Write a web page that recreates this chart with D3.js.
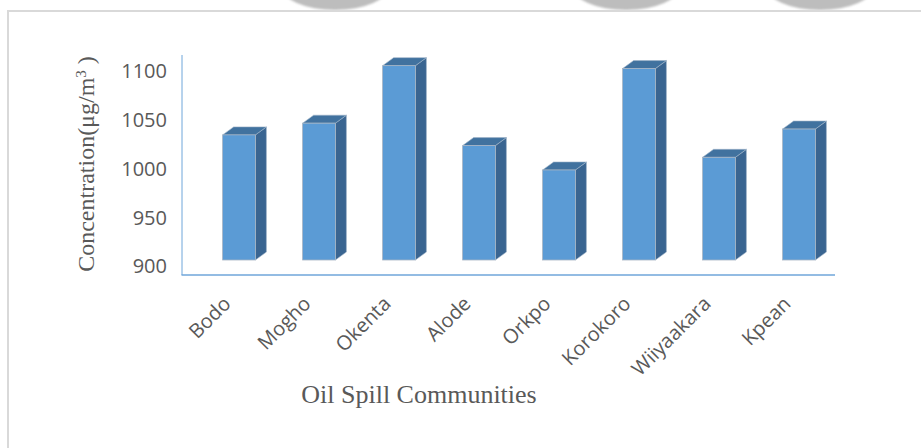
<!DOCTYPE html>
<html>
<head>
<meta charset="utf-8">
<script src="https://cdn.jsdelivr.net/npm/d3@7"></script>
<style>
  html, body { margin: 0; padding: 0; background: #fff; }
  svg { display: block; }
</style>
</head>
<body>
<svg id="chart" width="921" height="448"></svg>
<script>
// Concentration per oil spill community
const communities = ["Bodo", "Mogho", "Okenta", "Alode", "Orkpo", "Korokoro", "Wiiyaakara", "Kpean"];
const concentration = [1035, 1047, 1106, 1024, 999, 1103, 1012, 1041];
const yTicks = [900, 950, 1000, 1050, 1100];

const svg = d3.select("#chart");
const W = 921, H = 448;

// soft grey discs peeking in along the top edge
const discs = [335, 626, 820];
const defs = svg.append("defs");
defs.append("filter").attr("id", "soft")
  .append("feGaussianBlur").attr("stdDeviation", 1.2);
svg.append("g").attr("filter", "url(#soft)")
  .selectAll("ellipse").data(discs).join("ellipse")
  .attr("cx", d => d).attr("cy", -14).attr("rx", 54).attr("ry", 24)
  .attr("fill", "#bdbdbd");

// chart frame
svg.append("path")
  .attr("d", `M8,${H} L8,11 L${W},11`)
  .attr("fill", "none").attr("stroke", "#d9d9d9").attr("stroke-width", 2);

// scales
const y = d3.scaleLinear().domain([900, 1100]).range([266.5, 71.5]);
const x = d3.scaleBand().domain(communities).range([199, 839])
  .paddingInner(0.59).paddingOuter(0.295);

const depthX = 11, depthY = -8;          // oblique depth of each column
const floorShift = 6.5;                  // front face sits slightly above the tick baseline
const base = y(900) - floorShift;

// axis lines
const axisColor = "#6fa6da";
svg.append("line").attr("x1", 182).attr("x2", 182).attr("y1", 55).attr("y2", 275)
  .attr("stroke", axisColor).attr("stroke-width", 1);
svg.append("line").attr("x1", 181.5).attr("x2", 835).attr("y1", 275).attr("y2", 275)
  .attr("stroke", axisColor).attr("stroke-width", 1.6);

// y tick labels
const yAxis = svg.append("g").attr("transform", "translate(182,0)")
  .call(d3.axisLeft(y).tickValues(yTicks).tickSize(0).tickPadding(15).tickFormat(d3.format("d")));
yAxis.select(".domain").remove();
yAxis.selectAll("text")
  .attr("font-family", "'Open Sans', sans-serif").attr("font-size", 20)
  .attr("fill", "#595959");

// 3D columns
const bars = svg.append("g").selectAll("g").data(communities.map((c, i) => ({ c, v: concentration[i] })))
  .join("g");
const bw = x.bandwidth();
bars.append("path") // side
  .attr("d", d => {
    const x1 = x(d.c) + bw, t = y(d.v);
    return `M${x1},${t} L${x1 + depthX},${t + depthY} L${x1 + depthX},${base + depthY} L${x1},${base} Z`;
  })
  .attr("fill", "#3a6591").attr("stroke", "#9fb3c8").attr("stroke-width", 0.6);
bars.append("path") // top
  .attr("d", d => {
    const x0 = x(d.c), t = y(d.v);
    return `M${x0},${t} L${x0 + depthX},${t + depthY} L${x0 + bw + depthX},${t + depthY} L${x0 + bw},${t} Z`;
  })
  .attr("fill", "#41729f").attr("stroke", "#9fb3c8").attr("stroke-width", 0.6);
bars.append("rect") // front
  .attr("x", d => x(d.c)).attr("y", d => y(d.v))
  .attr("width", bw).attr("height", d => base - y(d.v))
  .attr("fill", "#5b9bd5").attr("stroke", "#a7b4c2").attr("stroke-width", 0.8);

// category labels
svg.append("g").selectAll("text").data(communities).join("text")
  .attr("transform", d => `translate(${x(d) + bw / 2 - 7},305) rotate(-45)`)
  .attr("text-anchor", "end")
  .attr("font-family", "'Open Sans', sans-serif").attr("font-size", 20)
  .attr("fill", "#595959")
  .text(d => d);

// axis titles
const yTitle = svg.append("text")
  .attr("transform", "translate(94,164) rotate(-90)")
  .attr("text-anchor", "middle")
  .attr("font-family", "'Liberation Serif', 'Times New Roman', serif").attr("font-size", 24)
  .attr("fill", "#595959");
yTitle.append("tspan").text("Concentration(μg/m");
yTitle.append("tspan").attr("baseline-shift", "super").attr("font-size", 15).text("3");
yTitle.append("tspan").text(" )");

svg.append("text")
  .attr("x", 419).attr("y", 403)
  .attr("text-anchor", "middle")
  .attr("font-family", "'Liberation Serif', 'Times New Roman', serif").attr("font-size", 26)
  .attr("fill", "#595959")
  .text("Oil Spill Communities");
</script>
</body>
</html>
